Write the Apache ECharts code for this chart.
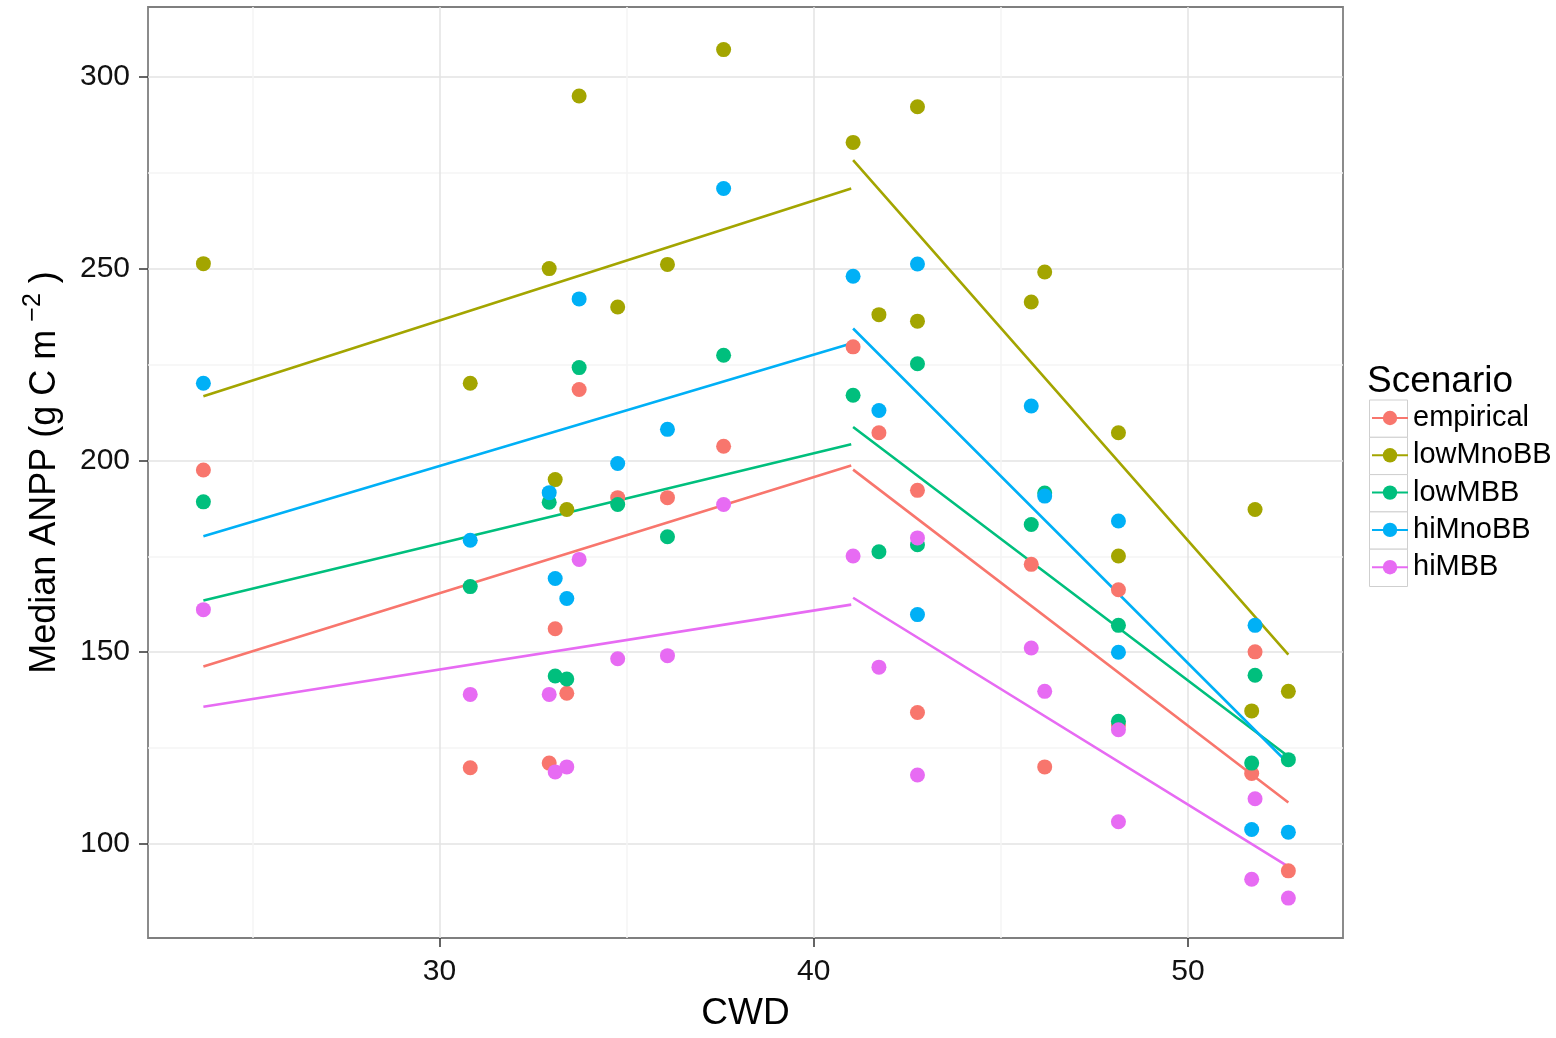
<!DOCTYPE html>
<html>
<head>
<meta charset="utf-8">
<title>Median ANPP vs CWD</title>
<script src="https://cdn.jsdelivr.net/npm/echarts@6/dist/echarts.min.js"></script>
<style>
html, body { margin: 0; padding: 0; background: #fff; }
#chart { width: 1556px; height: 1038px; }
</style>
</head>
<body>
<div id="chart"></div>
<script>
// sites (CWD) shared by every scenario
var cwd = [23.69, 30.82, 32.93, 33.09, 33.40, 33.73, 34.76, 36.09, 37.59, 41.05,
           41.74, 42.77, 42.77, 45.81, 46.17, 48.14, 48.14, 51.70, 51.79, 52.68];

var scenarios = ['empirical', 'lowMnoBB', 'lowMBB', 'hiMnoBB', 'hiMBB'];
var colors = ['#F8766D', '#A3A500', '#00BF7D', '#00B0F6', '#E76BF3'];

// median ANPP per site
var empirical = [197.5, 119.9, 121.1, 156.1, 139.3, 218.5, 190.3, 190.3, 203.7, 229.6,
                 207.2, 192.2, 134.3, 172.9, 120.1, 166.3, 131.0, 118.4, 150.1, 93.0];
var lowMnoBB = [251.3, 220.1, 250.0, 195.0, 187.2, 295.0, 240.0, 251.1, 307.1, 282.9,
                238.0, 292.2, 236.3, 241.3, 249.1, 207.2, 175.1, 134.7, 187.2, 139.8];
var lowMBB = [189.2, 167.1, 189.1, 143.8, 143.0, 224.2, 188.5, 180.1, 227.4, 217.0,
              176.2, 225.2, 178.0, 183.3, 191.5, 157.0, 132.0, 121.1, 144.0, 122.0];
var hiMnoBB = [220.1, 179.2, 191.6, 169.2, 164.0, 242.1, 199.2, 208.1, 270.9, 248.0,
               213.0, 251.2, 159.8, 214.2, 190.7, 184.2, 150.0, 103.8, 157.0, 103.1];
var hiMBB = [161.1, 139.0, 139.0, 118.8, 120.1, 174.2, 148.3, 149.1, 188.5, 175.1,
             146.1, 179.8, 118.0, 151.1, 139.8, 129.8, 105.8, 90.8, 111.8, 85.9];

// piecewise fits: start/end of left segment, start/end of right segment
var fitX = [23.69, 41.0, 41.05, 52.68];
var fitEmpirical = [146.3, 198.7, 197.6, 110.8];
var fitLowMnoBB = [216.7, 270.9, 278.3, 149.4];
var fitLowMBB = [163.5, 204.2, 208.7, 122.8];
var fitHiMnoBB = [180.2, 230.5, 234.4, 121.0];
var fitHiMBB = [135.8, 162.4, 164.2, 94.1];

var xMajor = [30, 40, 50];
var xMinor = [25, 35, 45];
var yMajor = [100, 150, 200, 250, 300];
var yMinor = [125, 175, 225, 275];

var points = [empirical, lowMnoBB, lowMBB, hiMnoBB, hiMBB];
var fits = [fitEmpirical, fitLowMnoBB, fitLowMBB, fitHiMnoBB, fitHiMBB];

var font = "'Liberation Sans', Arial, sans-serif";
var xMin = 22.21, xMax = 54.14, yMin = 75.5, yMax = 318.2;

function pairs(xs, ys) {
	return xs.map(function(x, i) { return [x, ys[i]]; });
}
function fitData(ys) {
	return [[fitX[0], ys[0]], [fitX[1], ys[1]], [fitX[1], '-'], [fitX[2], ys[2]], [fitX[3], ys[3]]];
}

var series = [];
scenarios.forEach(function(name, i) {
	series.push({
		name: name,
		type: 'line',
		data: fitData(fits[i]),
		symbol: 'circle',
		symbolSize: 15,
		showSymbol: false,
		connectNulls: false,
		color: colors[i],
		lineStyle: { color: colors[i], width: 2.6 },
		z: 2
	});
});
scenarios.forEach(function(name, i) {
	series.push({
		name: name,
		type: 'scatter',
		data: pairs(cwd, points[i]),
		symbolSize: 15,
		itemStyle: { color: colors[i], opacity: 1 },
		z: 3
	});
});

var chart = echarts.init(document.getElementById('chart'), null, { renderer: 'canvas' });
chart.setOption({
	animation: false,
	backgroundColor: '#ffffff',
	textStyle: { fontFamily: font },
	grid: {
		left: 148, top: 7, width: 1195, height: 931,
		containLabel: false, outerBoundsMode: 'none',
		show: true, borderColor: '#7f7f7f', borderWidth: 1.8, backgroundColor: 'transparent'
	},
	title: {
		text: 'Scenario', left: 1367, top: 363, padding: 0,
		textStyle: { fontSize: 37, fontWeight: 'normal', color: '#000', fontFamily: font }
	},
	legend: {
		orient: 'vertical', left: 1371, top: 403, padding: 0,
		itemWidth: 36, itemHeight: 18, itemGap: 7.3,
		selectedMode: false,
		textStyle: { fontSize: 29, lineHeight: 30, color: '#000', fontFamily: font },
		data: scenarios
	},
	graphic: scenarios.map(function(s, i) {
		return {
			type: 'rect', left: 1369, top: 399.5 + i * 37.3, z: -1,
			shape: { width: 38, height: 37.3 },
			style: { fill: '#fff', stroke: '#cfcfcf', lineWidth: 1 }
		};
	}),
	xAxis: [{
		type: 'value', min: xMin, max: xMax,
		name: 'CWD', nameLocation: 'middle', nameGap: 57,
		nameTextStyle: { fontSize: 37, color: '#000', fontFamily: font },
		axisLine: { show: false },
		axisTick: { show: true, length: 9, customValues: xMajor, lineStyle: { color: '#333', width: 1.5 } },
		axisLabel: { customValues: xMajor, fontSize: 30, color: '#111', margin: 19, fontFamily: font },
		splitLine: { show: true, lineStyle: { color: '#e3e3e3', width: 1.5 } }
	}, {
		type: 'value', min: xMin, max: xMax, position: 'bottom',
		axisLine: { show: false },
		axisTick: { show: false, customValues: xMinor },
		axisLabel: { show: false, customValues: xMinor },
		splitLine: { show: true, lineStyle: { color: '#f5f5f5', width: 1.5 } }
	}],
	yAxis: [{
		type: 'value', min: yMin, max: yMax,
		name: '{t|Median ANPP (g C m}{s|\u22122}{t| )}',
		nameLocation: 'middle', nameGap: 79, nameRotate: 90,
		nameTextStyle: {
			fontSize: 36, color: '#000', fontFamily: font,
			rich: {
				t: { fontSize: 36, lineHeight: 48, color: '#000', fontFamily: font },
				s: { fontSize: 25, lineHeight: 25, verticalAlign: 'top', padding: [0, 0, 0, 8], color: '#000', fontFamily: font }
			}
		},
		axisLine: { show: false },
		axisTick: { show: true, length: 9, customValues: yMajor, lineStyle: { color: '#333', width: 1.5 } },
		axisLabel: { customValues: yMajor, fontSize: 30, color: '#111', margin: 18, fontFamily: font },
		splitLine: { show: true, lineStyle: { color: '#e3e3e3', width: 1.5 } }
	}, {
		type: 'value', min: yMin, max: yMax, position: 'left',
		axisLine: { show: false },
		axisTick: { show: false, customValues: yMinor },
		axisLabel: { show: false, customValues: yMinor },
		splitLine: { show: true, lineStyle: { color: '#f5f5f5', width: 1.5 } }
	}],
	series: series
});
</script>
</body>
</html>
